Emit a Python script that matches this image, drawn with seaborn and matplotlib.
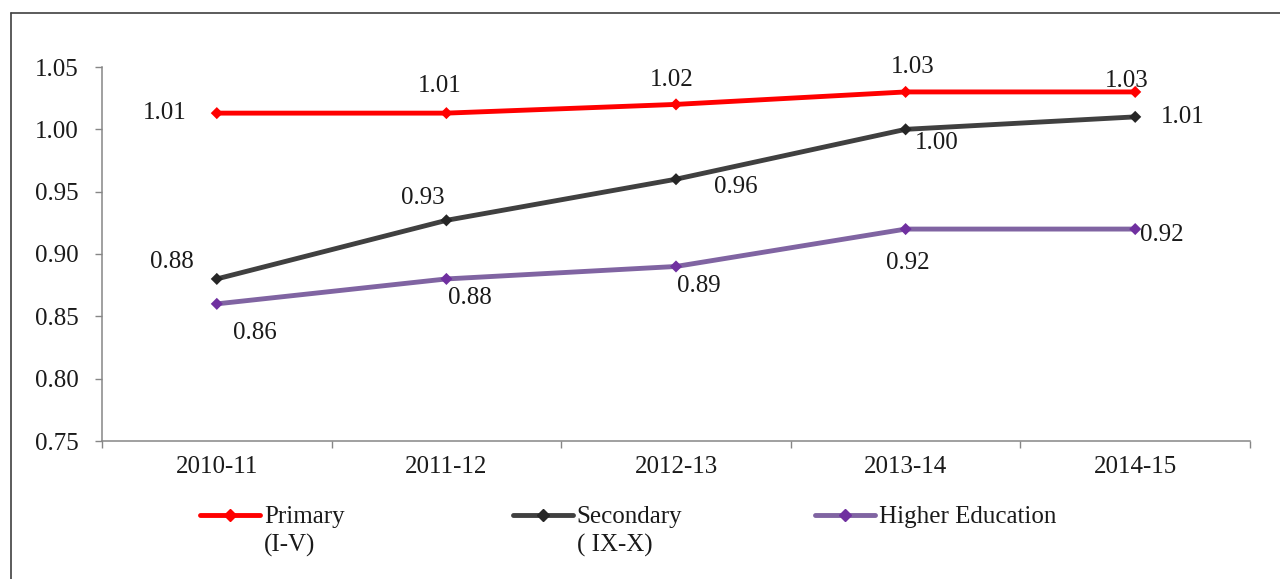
import numpy as np
import pandas as pd
import matplotlib
matplotlib.use("Agg")
import matplotlib.pyplot as plt
from matplotlib.lines import Line2D
from matplotlib.text import Annotation
from matplotlib.ticker import FormatStrFormatter, FixedLocator
import seaborn as sns

# ---- data ----
years = ["2010-11", "2011-12", "2012-13", "2013-14", "2014-15"]
primary = [1.013, 1.013, 1.02, 1.03, 1.03]
secondary = [0.88, 0.927, 0.96, 1.00, 1.01]
higher = [0.86, 0.88, 0.89, 0.92, 0.92]
series_names = ["Primary", "Secondary", "Higher Education"]
legend_sublabels = ["(I-V)", "( IX-X)", ""]
y_ticks = [0.75, 0.80, 0.85, 0.90, 0.95, 1.00, 1.05]

# ---- styling ----
line_colors = {"Primary": "#FF0000", "Secondary": "#404040", "Higher Education": "#8064A2"}
marker_colors = {"Primary": "#FF0000", "Secondary": "#262626", "Higher Education": "#7030A0"}
# data-label offsets (pixels, right/down positive) for each series' points
label_offsets = {
    "Primary": [(-52, 0), (-7, -27), (-4, -24), (7, -25), (-8, -11)],
    "Secondary": [(-45, -17), (-24, -22), (60, 8), (31, 14), (48, 0)],
    "Higher Education": [(38, 29), (23, 19), (23, 20), (2, 34), (27, 6)],
}
legend_x_px = [200, 513, 815]
FS = 18
TEXT = "#1a1a1a"
AXIS = "#868686"

sns.set_style("ticks")
plt.rcParams["font.family"] = ["Liberation Serif", "DejaVu Serif"]

DPI = 100
W, H = 1280, 579
px2pt = 72.0 / DPI
fig = plt.figure(figsize=(W / DPI, H / DPI), dpi=DPI)
fig.patch.set_facecolor("white")
ax = fig.add_axes([102 / W, 1 - 441 / H, (1250 - 102) / W, (441 - 67) / H])

values = {"Primary": primary, "Secondary": secondary, "Higher Education": higher}
df = pd.DataFrame({
    "year": years * 3,
    "x": list(range(len(years))) * 3,
    "value": primary + secondary + higher,
    "series": np.repeat(series_names, len(years)),
})

sns.lineplot(data=df, x="x", y="value", hue="series", hue_order=series_names,
             palette=line_colors, linewidth=3.5, sort=False, legend=False, ax=ax)
sns.scatterplot(data=df, x="x", y="value", hue="series", hue_order=series_names,
                palette=marker_colors, marker="D", s=38, linewidth=0,
                legend=False, ax=ax, zorder=4)

# value labels
for name in series_names:
    for i, v in enumerate(values[name]):
        dx, dy = label_offsets[name][i]
        ax.annotate(f"{v:.2f}", xy=(i, v), xytext=(dx * px2pt, -dy * px2pt),
                    textcoords="offset points", ha="center", va="center",
                    fontsize=FS, color=TEXT, annotation_clip=False, zorder=5)

# axes
ax.set_xlim(-0.5, len(years) - 0.5)
ax.set_ylim(y_ticks[0], y_ticks[-1])
ax.set_yticks(y_ticks)
ax.yaxis.set_major_formatter(FormatStrFormatter("%.2f"))
ax.set_xticks(range(len(years)))
ax.set_xticklabels(years)
ax.xaxis.set_minor_locator(FixedLocator(np.arange(-0.5, len(years), 1.0)))
ax.tick_params(axis="x", which="major", length=0, pad=11, labelsize=FS, labelcolor=TEXT)
ax.tick_params(axis="x", which="minor", length=5, width=1, color=AXIS, direction="out")
ax.tick_params(axis="y", which="major", length=5, width=1, color=AXIS, direction="out",
               pad=12, labelsize=FS, labelcolor=TEXT)
ax.set_xlabel("")
ax.set_ylabel("")
for s in ["top", "right"]:
    ax.spines[s].set_visible(False)
for s in ["left", "bottom"]:
    ax.spines[s].set_color(AXIS)
    ax.spines[s].set_linewidth(1.1)
ax.set_facecolor("white")

# legend: one entry per series, second label line set beneath the text
for name, sub, hx in zip(series_names, legend_sublabels, legend_x_px):
    handle = Line2D([], [], color=line_colors[name], lw=3.5, marker="D", ms=6,
                    mfc=marker_colors[name], mec=marker_colors[name],
                    solid_capstyle="round")
    leg = fig.legend(handles=[handle], labels=[name], loc="center left",
                     bbox_to_anchor=(hx / W, 1 - 517 / H), frameon=False,
                     borderpad=0, borderaxespad=0, handlelength=2.4,
                     handletextpad=0.15, fontsize=FS, labelcolor=TEXT)
    if sub:
        ann = Annotation(sub, xy=(0, 0), xycoords=leg.get_texts()[0],
                         xytext=(0, -4), textcoords="offset points",
                         ha="left", va="top", fontsize=FS, color=TEXT)
        ann.set_zorder(6)
        fig.add_artist(ann)

# chart frame
frame_kw = dict(transform=fig.transFigure, color="#404040", lw=1.2)
fig.add_artist(Line2D([11 / W, 11 / W], [0, 1 - 13 / H], **frame_kw))
fig.add_artist(Line2D([11 / W, 1], [1 - 13 / H, 1 - 13 / H], **frame_kw))

fig.savefig("out.png", dpi=DPI, facecolor="white")
